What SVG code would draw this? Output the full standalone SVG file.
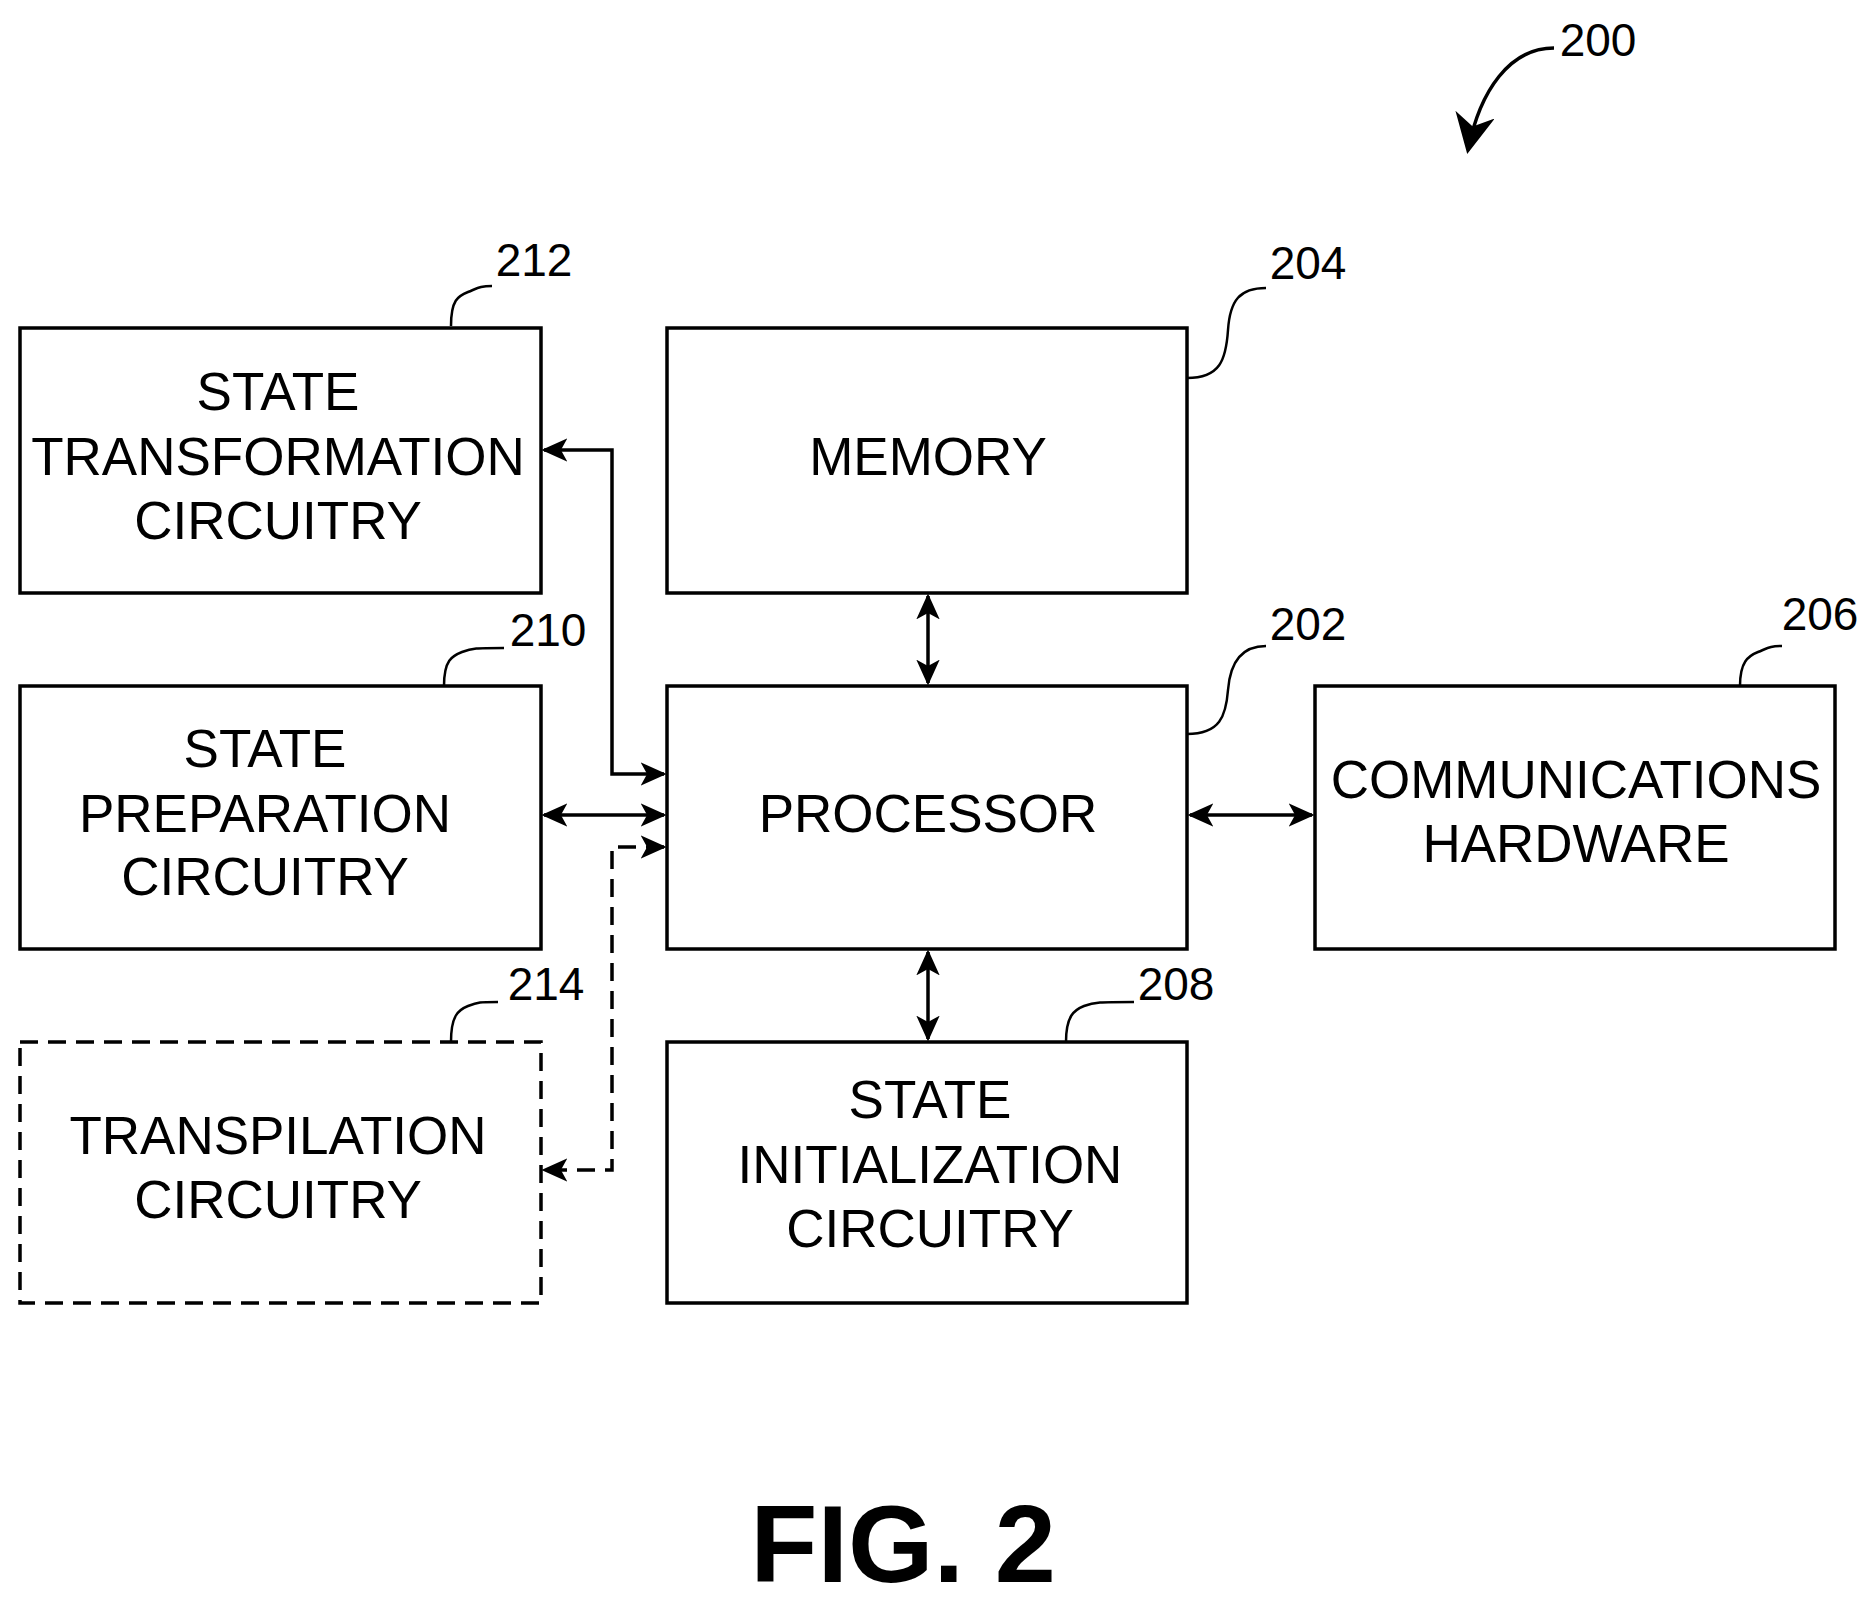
<svg xmlns="http://www.w3.org/2000/svg" width="1875" height="1604" viewBox="0 0 1875 1604">
<defs>
<marker id="a" viewBox="0 0 10 10" refX="9" refY="5" markerWidth="26" markerHeight="26" orient="auto-start-reverse" markerUnits="userSpaceOnUse"><path d="M0,0.5 L10,5 L0,9.5 L2.5,5 z" fill="#000"/></marker>
<marker id="b" viewBox="0 0 10 10" refX="9" refY="5" markerWidth="40" markerHeight="40" orient="auto" markerUnits="userSpaceOnUse"><path d="M0,0 L10,5 L0,10 L3,5 z" fill="#000"/></marker>
</defs>
<style>
.box{fill:#fff;stroke:#000;stroke-width:3.5}
.dash{stroke-dasharray:18,10}
.t{font-family:"Liberation Sans",Arial,sans-serif;font-size:53px;text-anchor:middle;fill:#000}
.n{font-family:"Liberation Sans",Arial,sans-serif;font-size:46px;text-anchor:middle;fill:#000}
.c{fill:none;stroke:#000;stroke-width:3.5}
.l{fill:none;stroke:#000;stroke-width:2.5}
</style>
<rect width="1875" height="1604" fill="#fff"/>
<g id="n212"><rect class="box" x="20" y="328" width="521" height="265"/><text class="t" x="278" y="410">STATE</text><text class="t" x="278" y="475">TRANSFORMATION</text><text class="t" x="278" y="539">CIRCUITRY</text><path class="l" d="M451,326 C451,300 458,296 468,292 S480,286 492,286"/><text class="n" x="534" y="276">212</text></g>
<g id="n204"><rect class="box" x="667" y="328" width="520" height="265"/><text class="t" x="928" y="475">MEMORY</text><path class="l" d="M1187,378 C1220,378 1226,360 1228,330 S1240,288 1266,288"/><text class="n" x="1308" y="279">204</text></g>
<g id="n210"><rect class="box" x="20" y="686" width="521" height="263"/><text class="t" x="265" y="767">STATE</text><text class="t" x="265" y="832">PREPARATION</text><text class="t" x="265" y="895">CIRCUITRY</text><path class="l" d="M444,686 C444,660 452,656 462,652 S476,648 504,648"/><text class="n" x="548" y="646">210</text></g>
<g id="n202"><rect class="box" x="667" y="686" width="520" height="263"/><text class="t" x="928" y="832">PROCESSOR</text><path class="l" d="M1187,734 C1220,734 1226,716 1228,690 S1240,646 1266,646"/><text class="n" x="1308" y="640">202</text></g>
<g id="n206"><rect class="box" x="1315" y="686" width="520" height="263"/><text class="t" x="1576" y="798">COMMUNICATIONS</text><text class="t" x="1576" y="862">HARDWARE</text><path class="l" d="M1740,686 C1740,662 1748,656 1758,652 S1770,646 1782,646"/><text class="n" x="1820" y="630">206</text></g>
<g id="n214"><rect class="box dash" x="20" y="1042" width="521" height="261"/><text class="t" x="278" y="1154">TRANSPILATION</text><text class="t" x="278" y="1218">CIRCUITRY</text><path class="l" d="M451,1042 C451,1016 458,1010 468,1006 S480,1002 498,1002"/><text class="n" x="546" y="1000">214</text></g>
<g id="n208"><rect class="box" x="667" y="1042" width="520" height="261"/><text class="t" x="930" y="1118">STATE</text><text class="t" x="930" y="1183">INITIALIZATION</text><text class="t" x="930" y="1247">CIRCUITRY</text><path class="l" d="M1066,1042 C1066,1016 1074,1010 1084,1006 S1100,1002 1134,1002"/><text class="n" x="1176" y="1000">208</text></g>
<g id="connectors">
<path class="c" d="M928,596 V683" marker-start="url(#a)" marker-end="url(#a)"/>
<path class="c" d="M928,952 V1039" marker-start="url(#a)" marker-end="url(#a)"/>
<path class="c" d="M1190,815 H1312" marker-start="url(#a)" marker-end="url(#a)"/>
<path class="c" d="M544,815 H664" marker-start="url(#a)" marker-end="url(#a)"/>
<path class="c" d="M544,450 H612 V774 H664" marker-start="url(#a)" marker-end="url(#a)"/>
<path class="c dash" d="M664,847 H612 V1170 H544" marker-start="url(#a)" marker-end="url(#a)"/>
</g>
<g id="ref200"><text class="n" x="1598" y="56">200</text><path class="c" d="M1554,48 C1510,48 1480,90 1468,150" marker-end="url(#b)"/></g>
<text x="903" y="1582" font-family="'Liberation Sans',Arial,sans-serif" font-weight="bold" font-size="110" text-anchor="middle">FIG. 2</text>
</svg>
